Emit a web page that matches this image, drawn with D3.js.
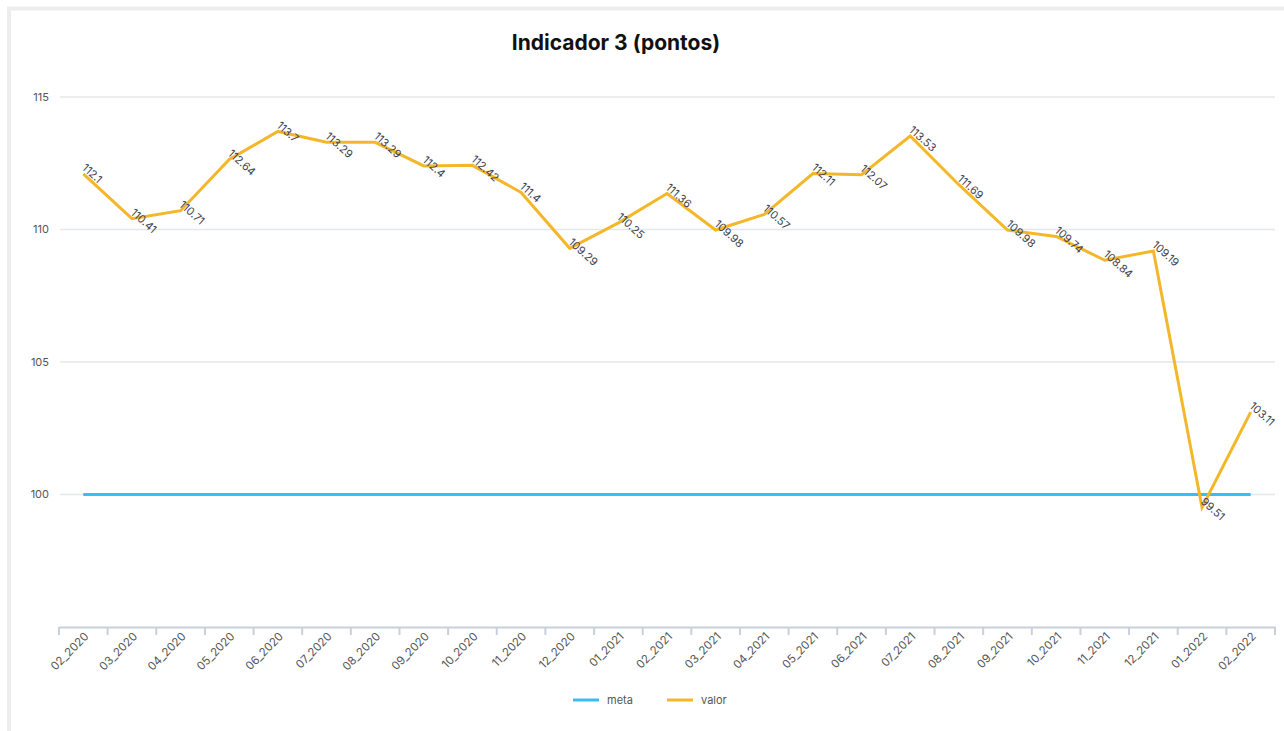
<!DOCTYPE html>
<html><head><meta charset="utf-8">
<script src="https://cdn.jsdelivr.net/npm/d3@7"></script>
<style>
body{margin:0;background:#fff;}
text{font-family:Inter,"Open Sans",sans-serif;}
</style></head>
<body>
<svg id="c" width="1284" height="731"></svg>
<script>
const categories = ["02_2020","03_2020","04_2020","05_2020","06_2020","07_2020","08_2020","09_2020","10_2020","11_2020","12_2020","01_2021","02_2021","03_2021","04_2021","05_2021","06_2021","07_2021","08_2021","09_2021","10_2021","11_2021","12_2021","01_2022","02_2022"];
const valor = [112.1,110.41,110.71,112.64,113.7,113.29,113.29,112.4,112.42,111.4,109.29,110.25,111.36,109.98,110.57,112.11,112.07,113.53,111.69,109.98,109.74,108.84,109.19,99.51,103.11];
const meta = [100,100,100,100,100,100,100,100,100,100,100,100,100,100,100,100,100,100,100,100,100,100,100,100,100];
const yTicks = [100,105,110,115];
const seriesNames = ["meta","valor"];
const colors = {meta:"#38bdf8", valor:"#f4b72a"};

const svg = d3.select("#c");
// frame
svg.append("rect").attr("x",9).attr("y",8.5).attr("width",1300).attr("height",760)
  .attr("fill","none").attr("stroke","#ededed").attr("stroke-width",4);

const mLeft=59, mRight=1275, mTop=97, mBottom=627;
const x = d3.scaleBand().domain(categories).range([mLeft,mRight]);
const y = d3.scaleLinear().domain([95,115]).range([mBottom,mTop]);
const cx = d => x(d)+x.bandwidth()/2;

// title
svg.append("text").attr("x",616).attr("y",50).attr("text-anchor","middle")
  .attr("font-size",21).attr("font-weight","bold").attr("fill","#111").text("Indicador 3 (pontos)");

// grid
const g = svg.append("g");
g.selectAll("line.grid").data(yTicks).join("line").attr("class","grid")
  .attr("x1",mLeft+1).attr("x2",mRight).attr("y1",d=>y(d)).attr("y2",d=>y(d))
  .attr("stroke","#e4e7eb").attr("stroke-width",1.5);
g.selectAll("text.yl").data(yTicks).join("text").attr("class","yl")
  .attr("x",49).attr("y",d=>y(d)).attr("dy","0.35em").attr("text-anchor","end")
  .attr("font-size",11).attr("fill","#555").text(d=>d);

// x axis
const xa = svg.append("g").attr("transform",`translate(0,${mBottom})`)
  .call(d3.axisBottom(x).tickSize(0).tickFormat(""));
xa.select(".domain").attr("stroke","#c8d0da").attr("stroke-width",2);
const bounds = categories.map(c=>x(c)).concat([mRight]);
xa.selectAll("line.tk").data(bounds).join("line").attr("class","tk")
  .attr("x1",d=>d).attr("x2",d=>d).attr("y1",0).attr("y2",8)
  .attr("stroke","#c8d0da").attr("stroke-width",2);
svg.append("g").selectAll("text").data(categories).join("text")
  .attr("transform",d=>`translate(${cx(d)},${mBottom+4}) rotate(-45)`)
  .attr("dy","0.75em").attr("text-anchor","end").attr("font-size",11.5).attr("fill","#555")
  .text(d=>d);

// lines
const line = d3.line().x((d,i)=>cx(categories[i])).y(d=>y(d));
svg.append("path").datum(meta).attr("d",line).attr("fill","none")
  .attr("stroke",colors.meta).attr("stroke-width",3);
svg.append("path").datum(valor).attr("d",line).attr("fill","none")
  .attr("stroke",colors.valor).attr("stroke-width",3).attr("stroke-linejoin","miter");

// data labels
svg.append("g").selectAll("text").data(valor).join("text")
  .attr("transform",(d,i)=>`translate(${cx(categories[i])-2},${y(d)-5}) rotate(42)`)
  .attr("font-size",11).attr("fill","#3f4450").text(d=>d);

// legend
const lx = [573,667];
const lg = svg.append("g");
seriesNames.forEach((s,i)=>{
  lg.append("line").attr("x1",lx[i]).attr("x2",lx[i]+26).attr("y1",700).attr("y2",700)
    .attr("stroke",colors[s]).attr("stroke-width",3);
  lg.append("text").attr("x",lx[i]+34).attr("y",700).attr("dy","0.35em")
    .attr("font-size",11).attr("fill","#555").text(s);
});
</script>
</body></html>
